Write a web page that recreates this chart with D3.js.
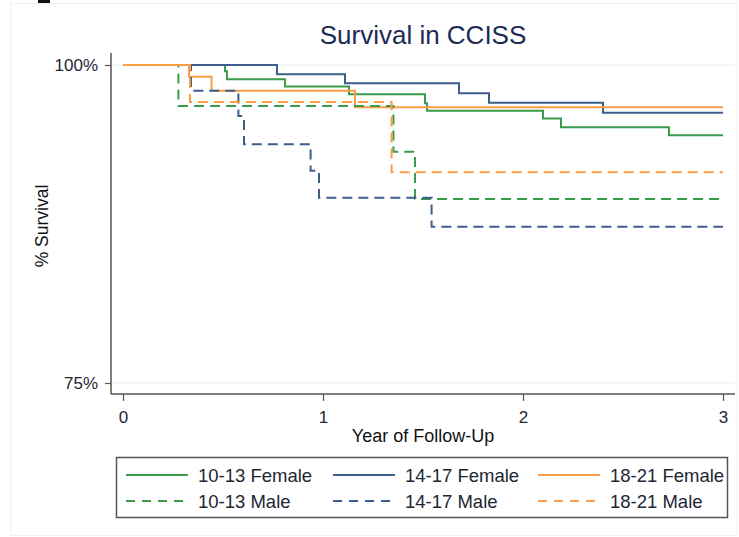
<!DOCTYPE html>
<html>
<head>
<meta charset="utf-8">
<script src="https://cdn.jsdelivr.net/npm/d3@7"></script>
<style>
  html, body { margin: 0; padding: 0; background: #fff; }
  svg { display: block; font-family: Arial, "Liberation Sans", Helvetica, sans-serif; }
</style>
</head>
<body>
<svg id="chart" width="739" height="537"></svg>
<script>
// ---- Data ----
const seriesNames = ["10-13 Female", "14-17 Female", "18-21 Female", "10-13 Male", "14-17 Male", "18-21 Male"];
const seriesColors = ["#3a9b49", "#3c5f8c", "#fb9c47", "#3a9b49", "#3c5f8c", "#fb9c47"];
const seriesDashed = [false, false, false, true, true, true];

// step times (years) and survival (%) after each step
const f1013Times = [0, 0.51, 0.52, 0.81, 1.13, 1.51, 1.52, 2.10, 2.19, 2.73];
const f1013Surv  = [100, 99.5, 98.87, 98.3, 97.7, 96.99, 96.41, 95.8, 95.1, 94.47];
const f1417Times = [0, 0.77, 1.11, 1.68, 1.83, 2.40];
const f1417Surv  = [100, 99.27, 98.56, 97.77, 97.04, 96.25];
const f1821Times = [0, 0.33, 0.443, 1.16];
const f1821Surv  = [100, 99.08, 97.98, 96.67];
const m1013Times = [0, 0.277, 1.352, 1.46];
const m1013Surv  = [100, 96.78, 93.18, 89.47];
const m1417Times = [0, 0.34, 0.577, 0.605, 0.938, 0.98, 1.543];
const m1417Surv  = [100, 97.98, 96.0, 93.77, 91.69, 89.57, 87.29];
const m1821Times = [0, 0.335, 1.343];
const m1821Surv  = [100, 97.1, 91.56];

const followUpEnd = 3;
const xTicks = [0, 1, 2, 3];
const yTicks = [75, 100];
const yTickLabels = ["75%", "100%"];

const titleText = "Survival in CCISS";
const xTitle = "Year of Follow-Up";
const yTitle = "% Survival";

const seriesTimes = [f1013Times, f1417Times, f1821Times, m1013Times, m1417Times, m1821Times];
const seriesSurv  = [f1013Surv, f1417Surv, f1821Surv, m1013Surv, m1417Surv, m1821Surv];

// ---- Layout ----
const svg = d3.select("#chart");
const axisX0 = 111, axisX1 = 735, axisYTop = 53, axisYBottom = 394;
const x = d3.scaleLinear().domain([0, 3]).range([123, 723]);
const y = d3.scaleLinear().domain([75, 100]).range([383, 65]);

// faint outer frame
svg.append("rect").attr("x", 10.5).attr("y", 3.5).attr("width", 727).attr("height", 532)
  .attr("fill", "none").attr("stroke", "#f1f1f1").attr("stroke-width", 1);
// small dark artifact top-left
svg.append("rect").attr("x", 38).attr("y", 0).attr("width", 12).attr("height", 3).attr("fill", "#111");

// gridlines
svg.append("g").selectAll("line").data(yTicks).join("line")
  .attr("x1", axisX0).attr("x2", axisX1)
  .attr("y1", d => y(d)).attr("y2", d => y(d))
  .attr("stroke", "#e6f0f3").attr("stroke-width", 1.2);

// Y axis
const yAxis = d3.axisLeft(y).tickValues(yTicks).tickSize(6).tickPadding(7)
  .tickFormat((d, i) => yTickLabels[i]);
const gy = svg.append("g").attr("transform", `translate(${axisX0},0)`).call(yAxis);
gy.select(".domain").remove();
gy.selectAll(".tick line").attr("stroke", "#555").attr("stroke-width", 1.2);
gy.selectAll(".tick text").attr("font-size", 17).attr("fill", "#1d2633")
  .attr("font-family", "Arial, 'Liberation Sans', sans-serif");
svg.append("line").attr("x1", axisX0).attr("x2", axisX0).attr("y1", axisYTop).attr("y2", axisYBottom)
  .attr("stroke", "#555").attr("stroke-width", 1.5);

// X axis
const xAxis = d3.axisBottom(x).tickValues(xTicks).tickSize(7).tickPadding(10).tickFormat(d3.format("d"));
const gx = svg.append("g").attr("transform", `translate(0,${axisYBottom})`).call(xAxis);
gx.select(".domain").remove();
gx.selectAll(".tick line").attr("stroke", "#555").attr("stroke-width", 1.2);
gx.selectAll(".tick text").attr("font-size", 17).attr("fill", "#1d2633")
  .attr("font-family", "Arial, 'Liberation Sans', sans-serif");
svg.append("line").attr("x1", axisX0).attr("x2", axisX1).attr("y1", axisYBottom).attr("y2", axisYBottom)
  .attr("stroke", "#555").attr("stroke-width", 1.5);

// survival step lines
const line = d3.line().x(d => x(d[0])).y(d => y(d[1])).curve(d3.curveStepAfter);
const order = [0, 1, 2, 3, 4, 5];
order.forEach(i => {
  const pts = seriesTimes[i].map((t, j) => [t, seriesSurv[i][j]]);
  pts.push([followUpEnd, seriesSurv[i][seriesSurv[i].length - 1]]);
  svg.append("path").datum(pts)
    .attr("d", line)
    .attr("fill", "none")
    .attr("stroke", seriesColors[i])
    .attr("stroke-width", 2)
    .attr("stroke-dasharray", seriesDashed[i] ? "10,6" : null);
});

// title & axis titles
svg.append("text").attr("x", 423).attr("y", 44).attr("text-anchor", "middle")
  .attr("font-size", 26).attr("fill", "#1c2b55").text(titleText);
svg.append("text").attr("x", 423).attr("y", 442).attr("text-anchor", "middle")
  .attr("font-size", 18).attr("fill", "#111").text(xTitle);
svg.append("text").attr("transform", "translate(48,226) rotate(-90)").attr("text-anchor", "middle")
  .attr("font-size", 17.5).attr("fill", "#111").text(yTitle);

// legend
const legend = svg.append("g");
legend.append("rect").attr("x", 116.5).attr("y", 457.5).attr("width", 611).attr("height", 60)
  .attr("fill", "#fff").attr("stroke", "#555").attr("stroke-width", 1.5);
const colX = [126, 333, 538];
const rowY = [475, 501];
seriesNames.forEach((name, i) => {
  const c = i % 3, r = Math.floor(i / 3);
  legend.append("line")
    .attr("x1", colX[c]).attr("x2", colX[c] + 62)
    .attr("y1", rowY[r]).attr("y2", rowY[r])
    .attr("stroke", seriesColors[i]).attr("stroke-width", 2)
    .attr("stroke-dasharray", seriesDashed[i] ? "9,7" : null);
  legend.append("text")
    .attr("x", colX[c] + 72).attr("y", rowY[r] + 6.5)
    .attr("font-size", 18.5).attr("fill", "#1d2633").text(name);
});
</script>
</body>
</html>
